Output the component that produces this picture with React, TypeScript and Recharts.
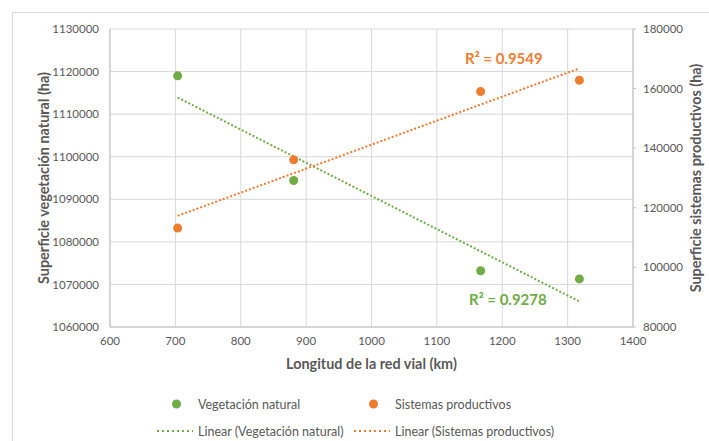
import { ScatterChart, Scatter, XAxis, YAxis, CartesianGrid, LabelList } from 'recharts'

const longitud = [703.5, 881, 1167, 1318]
const vegetacion = [1119000, 1094400, 1073200, 1071300]
const sistemas = [113200, 136100, 159000, 162800]

// trend lines (ends only)
const trendX = [703.5, 1318]
const vegTrend = [1113900, 1066000]
const sisTrend = [117300, 166800]
const r2Labels = ['R² = 0.9278', 'R² = 0.9549']

const xTicks = [600, 700, 800, 900, 1000, 1100, 1200, 1300, 1400]
const leftTicks = [1060000, 1070000, 1080000, 1090000, 1100000, 1110000, 1120000, 1130000]
const rightTicks = [80000, 100000, 120000, 140000, 160000, 180000]

const GREEN = '#70AD47'
const ORANGE = '#ED7D31'
const TEXT = '#595959'
const FONT = 'Lato, "Open Sans", sans-serif'

const vegData = longitud.map((x, i) => ({ x, y: vegetacion[i] }))
const sisData = longitud.map((x, i) => ({ x, y: sistemas[i] }))
const vegTrendData = trendX.map((x, i) => ({ x, y: vegTrend[i] }))
const sisTrendData = trendX.map((x, i) => ({ x, y: sisTrend[i] }))

const tick = { fontSize: 11.5, fill: TEXT, fontFamily: FONT }

const Dot = (color: string) => (p: any) => <circle cx={p.cx} cy={p.cy} r={4.5} fill={color} />
const NoDot = () => <g />

const r2Label = (text: string, color: string, dx: number, dy: number) => (p: any) => {
  if (p.index !== 1) return null
  return (
    <text x={p.x + dx} y={p.y + dy} textAnchor="middle" dominantBaseline="central" fill={color}
      fontFamily={FONT} fontSize={15} fontWeight={700}>
      {text}
    </text>
  )
}

export default function App() {
  return (
    <div style={{ position: 'relative', width: 709, height: 441, background: '#fff', fontFamily: FONT }}>
      <style>{`body{margin:0}`}</style>
      <div style={{ position: 'absolute', left: 12, top: 12, right: 0, bottom: 0, borderLeft: '1px solid #D9D9D9', borderTop: '1px solid #D9D9D9' }} />
      <ScatterChart width={709} height={441} margin={{ top: 29, right: 0, left: 0, bottom: 74 }} style={{ position: 'absolute', left: 0, top: 0 }}>
        <CartesianGrid yAxisId="left" stroke="#D9D9D9" strokeWidth={1} />
        <XAxis
          type="number"
          dataKey="x"
          domain={[600, 1400]}
          ticks={xTicks}
          tick={tick}
          tickLine={false}
          tickMargin={4}
          axisLine={{ stroke: '#BFBFBF' }}
          height={40}
          label={(props: any) => {
            const vb = props.viewBox
            return (
              <text x={vb.x + vb.width / 2} y={vb.y + 36} textAnchor="middle" dominantBaseline="central"
                fill={TEXT} fontFamily={FONT} fontSize={14.4} fontWeight={700}>
                Longitud de la red vial (km)
              </text>
            )
          }}
        />
        <YAxis
          yAxisId="left"
          dataKey="y"
          type="number"
          domain={[1060000, 1130000]}
          ticks={leftTicks}
          tick={tick}
          tickLine={false}
          tickMargin={5}
          axisLine={{ stroke: '#BFBFBF' }}
          width={110}
          label={(props: any) => {
            const vb = props.viewBox
            const cx = vb.x + 43
            const cy = vb.y + vb.height / 2
            return (
              <text x={cx} y={cy} transform={`rotate(-90 ${cx} ${cy})`} textAnchor="middle" dominantBaseline="central"
                fill={TEXT} fontFamily={FONT} fontSize={14.4} fontWeight={700}>
                Superficie vegetación natural (ha)
              </text>
            )
          }}
        />
        <YAxis
          yAxisId="right"
          dataKey="y"
          orientation="right"
          type="number"
          domain={[80000, 180000]}
          ticks={rightTicks}
          tick={tick}
          tickSize={3}
          tickLine={{ stroke: '#BFBFBF' }}
          tickMargin={7}
          axisLine={{ stroke: '#BFBFBF' }}
          width={76}
          label={(props: any) => {
            const vb = props.viewBox
            const cx = vb.x + 62
            const cy = vb.y + vb.height / 2
            return (
              <text x={cx} y={cy} transform={`rotate(-90 ${cx} ${cy})`} textAnchor="middle" dominantBaseline="central"
                fill={TEXT} fontFamily={FONT} fontSize={14.4} fontWeight={700}>
                Superficie sistemas productivos (ha)
              </text>
            )
          }}
        />
        <Scatter yAxisId="left" data={vegTrendData} shape={NoDot} isAnimationActive={false}
          line={{ stroke: GREEN, strokeWidth: 2, strokeDasharray: '2 2' }} lineType="joint">
          <LabelList dataKey="y" content={r2Label(r2Labels[0], GREEN, -67, 2)} />
        </Scatter>
        <Scatter yAxisId="right" data={sisTrendData} shape={NoDot} isAnimationActive={false}
          line={{ stroke: ORANGE, strokeWidth: 2, strokeDasharray: '2 2' }} lineType="joint">
          <LabelList dataKey="y" content={r2Label(r2Labels[1], ORANGE, -71, -6)} />
        </Scatter>
        <Scatter yAxisId="left" data={vegData} shape={Dot(GREEN)} isAnimationActive={false} />
        <Scatter yAxisId="right" data={sisData} shape={Dot(ORANGE)} isAnimationActive={false} />
      </ScatterChart>
      <Legend />
    </div>
  )
}

const legendItems = [
  { label: 'Vegetación natural', color: GREEN, kind: 'dot', left: 172, top: 404 },
  { label: 'Sistemas productivos', color: ORANGE, kind: 'dot', left: 369, top: 404 },
  { label: 'Linear (Vegetación natural)', color: GREEN, kind: 'line', left: 157, top: 431 },
  { label: 'Linear (Sistemas productivos)', color: ORANGE, kind: 'line', left: 354, top: 431 },
]

function Legend() {
  return (
    <>
      {legendItems.map((it) => (
        <div key={it.label} style={{ position: 'absolute', left: it.left, top: it.top - 8, height: 16, display: 'flex', alignItems: 'center', fontSize: 12.5, color: TEXT, fontFamily: FONT, whiteSpace: 'nowrap' }}>
          {it.kind === 'dot' ? (
            <svg width={26} height={16}><circle cx={4.5} cy={8} r={4.5} fill={it.color} /></svg>
          ) : (
            <svg width={41} height={16}><line x1={0} y1={8} x2={36} y2={8} stroke={it.color} strokeWidth={2} strokeDasharray="2 3" /></svg>
          )}
          <span>{it.label}</span>
        </div>
      ))}
    </>
  )
}
